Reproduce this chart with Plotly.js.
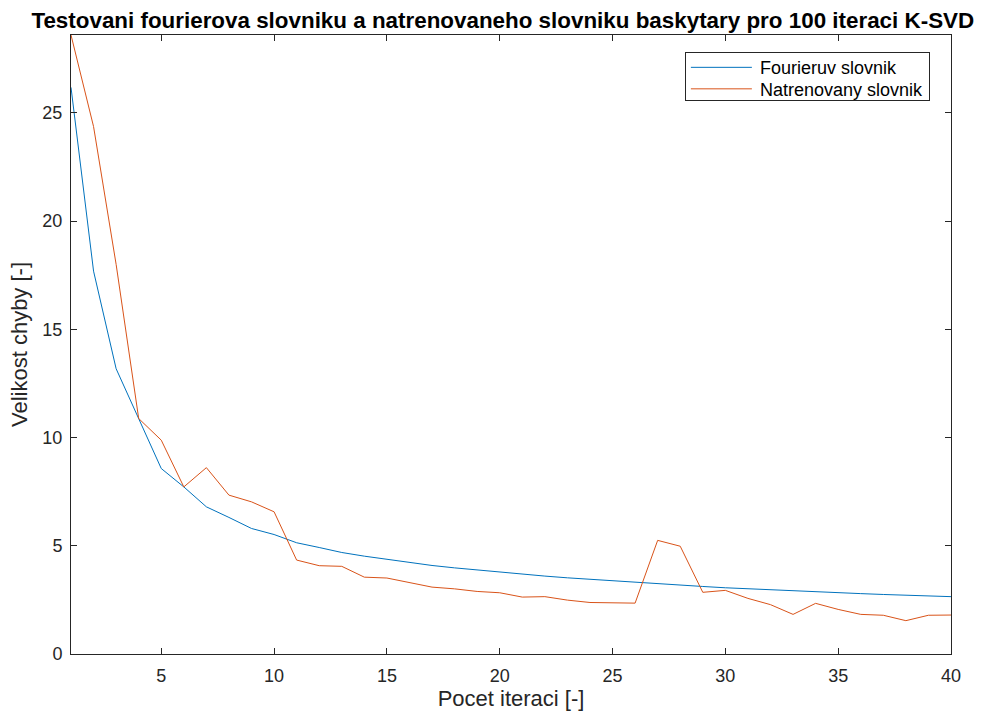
<!DOCTYPE html>
<html>
<head>
<meta charset="utf-8">
<script src="https://cdn.plot.ly/plotly-3.0.1.min.js"></script>
<style>html,body{margin:0;padding:0;background:#fff;}#chart{width:982px;height:711px;}</style>
</head>
<body>
<div id="chart"></div>
<script>
const iterations = [1,2,3,4,5,6,7,8,9,10,11,12,13,14,15,16,17,18,19,20,21,22,23,24,25,26,27,28,29,30,31,32,33,34,35,36,37,38,39,40];
const fourierError = [26.18,17.69,13.18,10.88,8.57,7.72,6.80,6.31,5.80,5.52,5.14,4.92,4.69,4.52,4.37,4.21,4.09,3.98,3.88,3.77,3.68,3.60,3.52,3.45,3.37,3.30,3.25,3.19,3.12,3.06,3.01,2.96,2.91,2.87,2.83,2.79,2.75,2.72,2.68,2.65];
const trainedError = [28.6,24.37,18.0,10.88,9.88,7.72,8.61,7.34,7.03,6.57,4.34,4.08,4.05,3.55,3.51,3.29,3.09,3.01,2.89,2.83,2.63,2.65,2.49,2.38,2.35,2.35,5.25,4.98,2.85,2.94,2.57,2.28,1.83,2.34,2.06,1.83,1.79,1.54,1.79,1.80];
const seriesNames = ["Fourieruv slovnik","Natrenovany slovnik"];
const xTicks = [5,10,15,20,25,30,35,40];
const yTicks = [0,5,10,15,20,25];

const font = "Liberation Sans, Arial, Helvetica, sans-serif";
const axisCol = "#262626";
const traces = [
  {x: iterations, y: fourierError, name: seriesNames[0], type: "scatter", mode: "lines",
   line: {color: "#0072BD", width: 1}},
  {x: iterations, y: trainedError, name: seriesNames[1], type: "scatter", mode: "lines",
   line: {color: "#D95319", width: 1}}
];
const axisCommon = {
  showgrid: false, zeroline: false, showline: true, linecolor: axisCol, linewidth: 1,
  mirror: "ticks", ticks: "inside", ticklen: 6, tickwidth: 1, tickcolor: axisCol,
  tickfont: {family: font, size: 18, color: axisCol}
};
const layout = {
  width: 982, height: 711,
  margin: {l: 71, r: 31, t: 35, b: 57},
  paper_bgcolor: "#fff", plot_bgcolor: "#fff",
  title: {text: "<b>Testovani fourierova slovniku a natrenovaneho slovniku baskytary pro 100 iteraci K-SVD</b>",
          font: {family: font, size: 22.4, color: "#000"}, x: 0.512, xanchor: "center", y: 0.972, yanchor: "middle"},
  xaxis: Object.assign({}, axisCommon, {range: [1, 40], tickvals: xTicks, ticklabelstandoff: 5,
          title: {text: "Pocet iteraci [-]", font: {family: font, size: 22, color: axisCol}, standoff: 4}}),
  yaxis: Object.assign({}, axisCommon, {range: [0, 28.6], tickvals: yTicks, ticklabelstandoff: 4,
          title: {text: "Velikost chyby [-]", font: {family: font, size: 22, color: axisCol}, standoff: 8}}),
  showlegend: true,
  legend: {x: 0.976, xanchor: "right", y: 0.972, yanchor: "top", bgcolor: "#fff",
           bordercolor: axisCol, borderwidth: 1, font: {family: font, size: 18, color: "#000"},
           tracegroupgap: 0, itemwidth: 64}
};
Plotly.newPlot("chart", traces, layout, {displayModeBar: false, staticPlot: true}).then(function (gd) {
  gd.querySelectorAll(".legend .traces .legendlines path").forEach(function (p) {
    p.setAttribute("d", "M5,0h61");
  });
  const bg = gd.querySelector(".legend rect.bg");
  if (bg) bg.setAttribute("height", "48");
  gd.querySelectorAll(".legend .traces").forEach(function (t, i) {
    t.setAttribute("transform", "translate(1," + (15 + i * 21.5) + ")");
  });
});
</script>
</body>
</html>
